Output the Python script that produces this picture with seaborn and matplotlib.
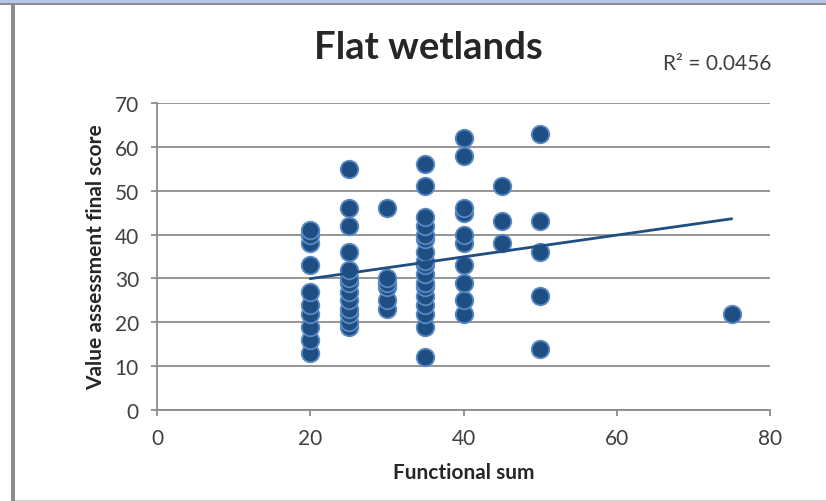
import numpy as np
import matplotlib
matplotlib.use("Agg")
import matplotlib.pyplot as plt
import seaborn as sns
import pandas as pd
from matplotlib.patches import Rectangle

# data
functional_sum = ([20] * 10 + [25] * 13 + [30] * 6 + [35] * 17
                  + [40] * 10 + [45] * 3 + [50] * 5 + [75] * 1)
value_score = ([13, 16, 19, 22, 24, 27, 33, 38, 40, 41]
               + [19, 20, 22, 23, 25, 27, 29, 30, 32, 36, 42, 46, 55]
               + [23, 25, 28, 29, 30, 46]
               + [12, 19, 22, 24, 26, 28, 29, 31, 33, 34, 36, 39, 40, 42, 44, 51, 56]
               + [22, 25, 29, 33, 38, 40, 45, 46, 58, 62]
               + [38, 43, 51]
               + [14, 26, 36, 43, 63]
               + [22])
x_ticks = [0, 20, 40, 60, 80]
y_ticks = [0, 10, 20, 30, 40, 50, 60, 70]
r2_text = "R\u00b2 = 0.0456"

df = pd.DataFrame({"Functional sum": functional_sum,
                   "Value assessment final score": value_score})

sns.set_style("white")
plt.rcParams['font.family'] = ['Lato', 'DejaVu Sans']

grey = "#8c8c8c"
dark_blue = "#1f4e82"

fig = plt.figure(figsize=(8.26, 5.02), dpi=100)
ax = fig.add_axes([157 / 826, 1 - 411 / 502, (770 - 157) / 826, (411 - 104) / 502])

sns.regplot(data=df, x="Functional sum", y="Value assessment final score", ax=ax,
            ci=None, truncate=True,
            scatter_kws=dict(s=160, color=dark_blue, edgecolors="#5a8ac6",
                             linewidths=1.3, alpha=1, zorder=3),
            line_kws=dict(color=dark_blue, lw=2, zorder=4))

ax.set_xlim(0, 80)
ax.set_ylim(0, 70)
ax.set_xticks(x_ticks)
ax.set_yticks(y_ticks)
ax.yaxis.grid(True, color=grey, lw=1.3)
ax.set_axisbelow(True)
for side in ["top", "right"]:
    ax.spines[side].set_visible(False)
for side in ["left", "bottom"]:
    ax.spines[side].set_color(grey)
    ax.spines[side].set_linewidth(1.3)
ax.tick_params(axis="both", direction="out", length=4, width=1.3, color=grey,
               labelsize=15, labelcolor="#404040")
ax.tick_params(axis="y", pad=9, left=True)
ax.tick_params(axis="x", pad=9, bottom=True)

ax.set_xlabel("Functional sum", fontsize=15, fontweight="bold", labelpad=10)
ax.set_ylabel("Value assessment final score", fontsize=15, fontweight="bold", labelpad=6)

fig.text(428 / 826, 1 - 48 / 502, "Flat wetlands", fontsize=27.5, fontweight="bold",
         ha="center", va="center")
fig.text(717 / 826, 1 - 64 / 502, r2_text, fontsize=15, color="#404040",
         ha="center", va="center")

# window frame around the chart
fig.patches.append(Rectangle((0, 1 - 4 / 502), 1, 4 / 502, transform=fig.transFigure,
                             facecolor="#b4c6e7", edgecolor="none"))
fig.patches.append(Rectangle((0, 1 - 6 / 502), 1, 2 / 502, transform=fig.transFigure,
                             facecolor=grey, edgecolor="none"))
fig.patches.append(Rectangle((11 / 826, 0), 4 / 826, 1 - 6 / 502, transform=fig.transFigure,
                             facecolor=grey, edgecolor="none"))
fig.patches.append(Rectangle((15 / 826, 0), 1, 1.5 / 502, transform=fig.transFigure,
                             facecolor="#d0d0d0", edgecolor="none"))

fig.savefig("out.png", dpi=100)
